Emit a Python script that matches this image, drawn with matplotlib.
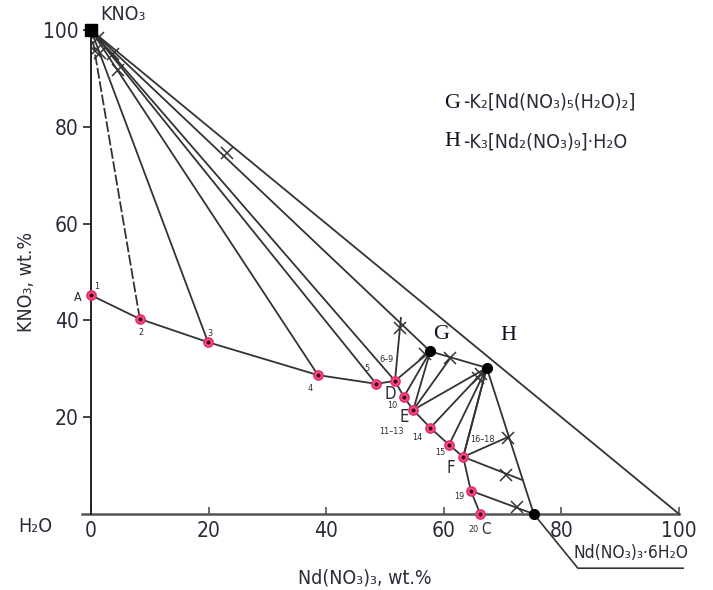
import numpy as np
import matplotlib.pyplot as plt

plt.rcParams['font.family'] = ['DejaVu Sans']
plt.rcParams['font.stretch'] = 'condensed'

# =========================
# DATA (wt.%)
# =========================

# liquid phase (solubility curve A-D-E-F-C)
nd_liquid = [0.0, 8.3, 19.9, 38.6, 48.5, 51.7, 53.2, 54.8, 57.7, 60.9, 63.3, 64.6, 66.2]
kno3_liquid = [45.2, 40.3, 35.5, 28.7, 26.9, 27.5, 24.2, 21.5, 17.8, 14.3, 11.8, 4.8, 0.0]
liquid_labels = ["1", "2", "3", "4", "5", "6–9", "10", "11–13", "14", "15", "16–18", "19", "20"]
point_letters = {0: "A", 5: "D", 7: "E", 10: "F"}

# solid phases
solid_nd = {"KNO3": 0.0, "G": 57.7, "H": 67.3, "hexa": 75.3}
solid_kno3 = {"KNO3": 100.0, "G": 33.6, "H": 30.2, "hexa": 0.0}

# tie lines: liquid point index -> solid phase
tie_liquid = [1, 2, 3, 4, 5, 5, 6, 7, 7, 8, 9, 10, 10, 11]
tie_solid = ["KNO3", "KNO3", "KNO3", "KNO3", "KNO3", "G", "G", "G", "H",
             "H", "H", "H", "H", "hexa"]

# short tie lines: liquid point index -> end composition
short_liquid = [5, 7, 10, 10]
short_nd = [52.7, 61.1, 71.1, 73.4]
short_kno3 = [40.5, 32.2, 16.0, 7.0]

# wet residues (X marks)
res_nd = [0.7, 1.5, 3.8, 4.6, 1.2, 23.2, 52.5, 56.8, 61.1, 66.3, 65.9,
          70.9, 70.6, 72.4]
res_kno3 = [95.6, 95.2, 95.0, 91.7, 98.3, 74.6, 38.4, 33.0, 32.2, 29.0,
            28.2, 15.6, 8.1, 1.4]

# =========================
# PLOT
# =========================

fig = plt.figure(figsize=(7.13, 5.9), dpi=100)
ax = fig.add_axes([91 / 713, 76 / 590, 588 / 713, 484 / 590])
ax.set_xlim(0, 100)
ax.set_ylim(0, 100)

lc = "#333333"
tc = "#2b2b38"
lw = 1.3

# axes lines
ax.plot([-1.5, 100], [0, 0], color="#555555", lw=1.8, clip_on=False)
ax.plot([0, 0], [0, 100], color="#222222", lw=1.4, clip_on=False)
# hypotenuse
ax.plot([0, 100], [100, 0], color=lc, lw=lw, clip_on=False)

# solubility curve
ax.plot(nd_liquid, kno3_liquid, color=lc, lw=lw)

# tie lines
for i, s in zip(tie_liquid, tie_solid):
    if i == 1:
        ax.plot([nd_liquid[i], solid_nd[s]], [kno3_liquid[i], solid_kno3[s]],
                color=lc, lw=lw, ls=(0, (6, 1.5)))
    else:
        ax.plot([nd_liquid[i], solid_nd[s]], [kno3_liquid[i], solid_kno3[s]],
                color=lc, lw=lw)

for i, xe, ye in zip(short_liquid, short_nd, short_kno3):
    ax.plot([nd_liquid[i], xe], [kno3_liquid[i], ye], color=lc, lw=lw)

# lines between solid phases
for a, b in [("KNO3", "G"), ("G", "H"), ("H", "hexa")]:
    ax.plot([solid_nd[a], solid_nd[b]], [solid_kno3[a], solid_kno3[b]],
            color=lc, lw=lw)

# residues
ax.plot(res_nd, res_kno3, ls="none", marker="x", ms=9, mew=1.1, color=lc)

# solid phase points
ax.plot(solid_nd["KNO3"], solid_kno3["KNO3"], marker="s", ms=8, color="black",
        clip_on=False, zorder=5)
for s in ["G", "H", "hexa"]:
    ax.plot(solid_nd[s], solid_kno3[s], marker="o", ms=7, color="black",
            clip_on=False, zorder=5)

# liquid points
ax.plot(nd_liquid, kno3_liquid, ls="none", marker="o", ms=6.5,
        mfc="#ff4f8f", mec="#e0306a", mew=1.2, clip_on=False, zorder=6)
ax.plot(nd_liquid, kno3_liquid, ls="none", marker="o", ms=2, color="#400010",
        clip_on=False, zorder=7)

# point number labels (offsets in pixels)
num_offsets = [(6, 9), (1, -14), (2, 9), (-8, -13), (-9, 15), (-8, 21),
               (-12, -9), (-22, -22), (-13, -10), (-9, -8), (19, 17),
               (-12, -6), (-7, -15)]
for i, lab in enumerate(liquid_labels):
    ax.annotate(lab, (nd_liquid[i], kno3_liquid[i]), xytext=num_offsets[i],
                textcoords="offset pixels", ha="center", va="center",
                fontsize=6.5, color=tc, annotation_clip=False)

letter_offsets = {0: (-13, -2), 5: (-5, -13), 7: (-9, -7), 10: (-12, -11)}
for i, lab in point_letters.items():
    ax.annotate(lab, (nd_liquid[i], kno3_liquid[i]), xytext=letter_offsets[i],
                textcoords="offset pixels", ha="center", va="center",
                fontsize=12 if i else 9, color=tc, annotation_clip=False)
ax.annotate("C", (nd_liquid[-1], kno3_liquid[-1]), xytext=(6, -15),
            textcoords="offset pixels", ha="center", va="center",
            fontsize=11, color=tc, annotation_clip=False)

# G and H labels
ax.annotate("G", (solid_nd["G"], solid_kno3["G"]), xytext=(11, 17),
            textcoords="offset pixels", ha="center", va="center",
            fontsize=16, family="Liberation Serif", color="#101020")
ax.annotate("H", (solid_nd["H"], solid_kno3["H"]), xytext=(22, 32),
            textcoords="offset pixels", ha="center", va="center",
            fontsize=16, family="Liberation Serif", color="#101020")

# legend text
fig.text(452 / 713, 1 - 103 / 590, "G", fontsize=16, family="Liberation Serif",
         color="#101020", ha="center", va="center")
fig.text(463 / 713, 1 - 102 / 590, "-K₂[Nd(NO₃)₅(H₂O)₂]", fontsize=14,
         color=tc, ha="left", va="center")
fig.text(452 / 713, 1 - 142 / 590, "H", fontsize=16, family="Liberation Serif",
         color="#101020", ha="center", va="center")
fig.text(463 / 713, 1 - 142 / 590, "-K₃[Nd₂(NO₃)₉]·H₂O", fontsize=14,
         color=tc, ha="left", va="center")

# corner labels
fig.text(100 / 713, 1 - 15 / 590, "KNO₃", fontsize=14, color=tc,
         ha="left", va="center")
fig.text(35 / 713, 1 - 526 / 590, "H₂O", fontsize=14, color=tc,
         ha="center", va="center")
fig.text(631 / 713, 1 - 553 / 590, "Nd(NO₃)₃·6H₂O", fontsize=12.5, color=tc,
         ha="center", va="center")
ax.plot([solid_nd["hexa"], 82.8, 100.7], [0, -11.2, -11.2], color=lc, lw=1.2,
        clip_on=False)

# ticks
ax.set_xticks([0, 20, 40, 60, 80, 100])
ax.set_yticks([20, 40, 60, 80, 100])
ax.tick_params(axis="x", direction="in", length=5, width=1.2, pad=5,
               labelsize=15, labelcolor=tc, color="#555555")
ax.tick_params(axis="y", direction="out", length=6, width=1.2, pad=3,
               labelsize=15, labelcolor=tc, color="#222222")
for sp in ax.spines.values():
    sp.set_visible(False)

# axis titles
fig.text(365 / 713, 1 - 578 / 590, "Nd(NO₃)₃, wt.%", fontsize=14, color=tc,
         ha="center", va="center")
fig.text(27 / 713, 1 - 282 / 590, "KNO₃, wt.%", fontsize=14, color=tc,
         ha="center", va="center", rotation=90)

fig.savefig("out.png", dpi=100)
